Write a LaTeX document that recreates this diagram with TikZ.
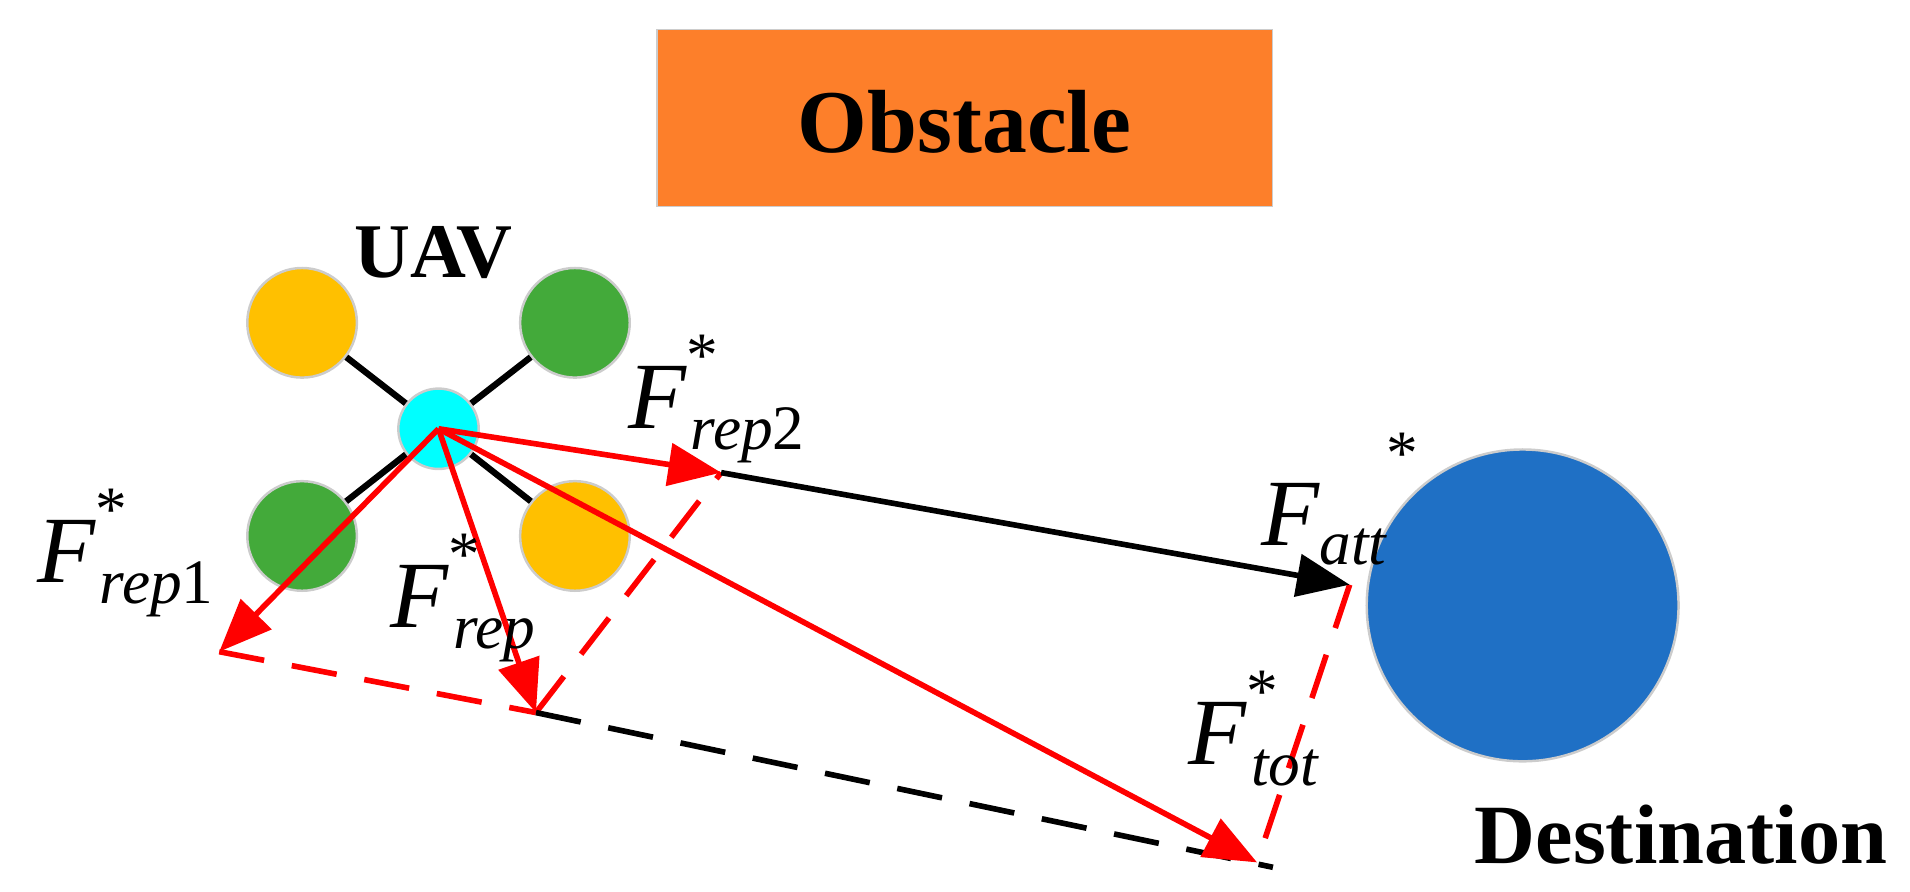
\documentclass[tikz,border=0pt]{standalone}
\usepackage{fontspec}
\setmainfont{Liberation Serif}
\usetikzlibrary{arrows.meta}
\newcommand\myF[1]{F\rlap{\raisebox{0.55em}{\fontsize{18}{18}\selectfont\upshape *}}\hspace{0.05em}\raisebox{-0.22em}{\fontsize{18}{18}\selectfont #1}}
\begin{document}
\begin{tikzpicture}[x=0.01218cm,y=-0.01218cm,
 rotor/.style={circle,draw=gray!40,line width=0.7pt,minimum size=#1*0.02436cm,inner sep=0},
 red/.style={draw=red,line width=1.6pt},
 rarrow/.style={red,-{Triangle[length=15pt,width=12pt]}},
 barrow/.style={draw=black,line width=1.6pt,-{Triangle[length=15pt,width=12pt]}},
 dsh/.style={line width=1.6pt,dash pattern=on 13pt off 8pt},
 lab/.style={font=\fontsize{27}{29}\selectfont\itshape,inner sep=0,anchor=base west},
 big/.style={font=\fontsize{22}{24}\selectfont\bfseries,inner sep=0}]
\clip (0,0) rectangle (1568,731.5);
\path[use as bounding box] (0,0) rectangle (1568,731.5);
\node[draw=gray!40,fill={rgb,255:red,253;green,127;blue,42},minimum width=6.15cm,minimum height=1.77cm,inner sep=0] (obs) at (792,97) {};
\node[big,font=\fontsize{25.5}{27}\selectfont\bfseries] (obst) at (792,100) {Obstacle};
\node[big] (uav) at (356,207) {UAV};
\node[rotor=45,fill={rgb,255:red,255;green,192;blue,0}] (r1) at (248,265) {};
\node[rotor=45,fill={rgb,255:red,67;green,170;blue,58}] (r2) at (472,265) {};
\node[rotor=45,fill={rgb,255:red,67;green,170;blue,58}] (r3) at (248,440) {};
\node[rotor=45,fill={rgb,255:red,255;green,192;blue,0}] (r4) at (472,440) {};
\coordinate (c) at (360,352);
\draw[line width=1.8pt] (c) -- (r1) (c) -- (r2) (c) -- (r3) (c) -- (r4);
\node[rotor=33,fill={rgb,255:red,0;green,255;blue,255}] (hub) at (c) {};
\node[rotor=128,fill={rgb,255:red,31;green,112;blue,197}] (dest) at (1250,497) {};
\node[big,font=\fontsize{24}{26}\selectfont\bfseries] (dt) at (1380,685) {Destination};
\coordinate (p1) at (180,535);
\coordinate (p) at (440,585);
\coordinate (p2) at (592,388);
\coordinate (pa) at (1108,480);
\coordinate (pt) at (1032,708);
\coordinate (pe) at (1045,712);
\draw[red,dsh] (p1) -- (p);
\draw[red,dsh] (p) -- (p2);
\draw[red,dsh] (pa) -- (pt);
\draw[dsh] (p) -- (pe);
\draw[barrow] (p2) -- (pa);
\draw[rarrow] (c) -- (p1);
\draw[rarrow] (c) -- (p);
\draw[rarrow] (c) -- (p2);
\draw[rarrow] (c) -- (pt);
\node[lab] (l1) at (30,478) {\myF{rep\upshape 1}};
\node[lab] (l2) at (320,515) {\myF{rep}};
\node[lab] (l3) at (515,352) {\myF{rep\upshape 2}};
\node[lab] (l4) at (1035,448) {F\raisebox{-0.2em}{\fontsize{18}{18}\selectfont att}\raisebox{0.75em}{\fontsize{18}{18}\selectfont\upshape *}};
\node[lab] (l5) at (975,628) {\myF{tot}};
\end{tikzpicture}
\end{document}
